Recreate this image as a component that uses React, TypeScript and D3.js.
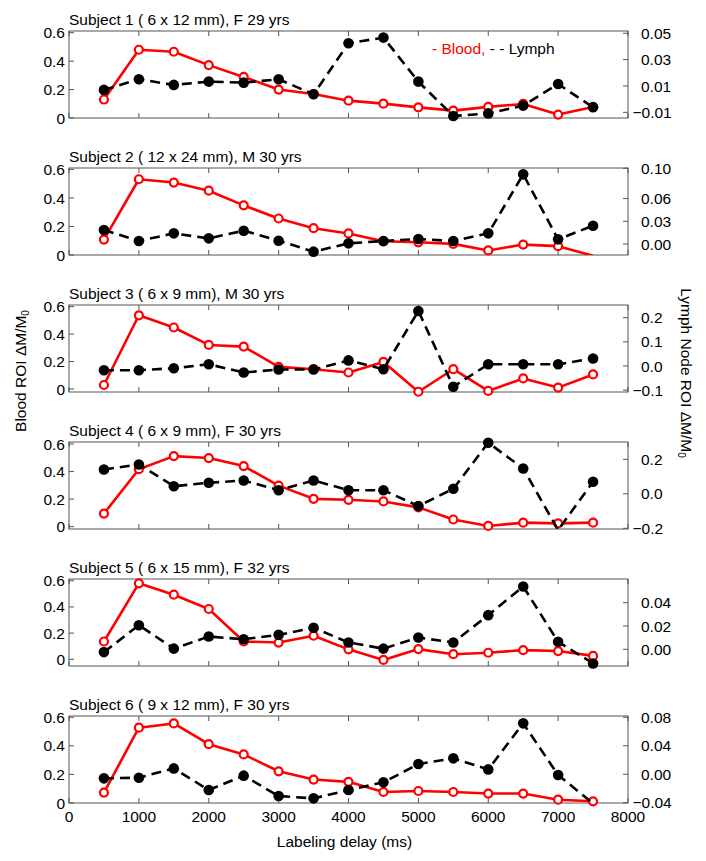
import React from 'react';
import * as d3 from 'd3';

const delays = [500, 1000, 1500, 2000, 2500, 3000, 3500, 4000, 4500, 5000, 5500, 6000, 6500, 7000, 7500];
const xTicks = [0, 1000, 2000, 3000, 4000, 5000, 6000, 7000, 8000];

const titles = [
  'Subject 1 ( 6 x 12 mm), F 29 yrs',
  'Subject 2 ( 12 x 24 mm), M 30 yrs',
  'Subject 3 ( 6 x 9 mm), M 30 yrs',
  'Subject 4 ( 6 x 9 mm), F 30 yrs',
  'Subject 5 ( 6 x 15 mm), F 32 yrs',
  'Subject 6 ( 9 x 12 mm), F 30 yrs',
];

const blood1 = [0.13, 0.48, 0.466, 0.372, 0.289, 0.2, 0.169, 0.122, 0.101, 0.075, 0.052, 0.078, 0.099, 0.024, 0.078];
const lymph1 = [0.007, 0.0151, 0.0108, 0.0133, 0.0125, 0.0151, 0.0037, 0.0424, 0.0467, 0.0133, -0.0128, -0.0108, -0.0049, 0.0115, -0.0062];

const blood2 = [0.108, 0.531, 0.508, 0.451, 0.348, 0.256, 0.188, 0.151, 0.096, 0.089, 0.078, 0.032, 0.073, 0.062, -0.005];
const lymph2 = [0.0185, 0.004, 0.0141, 0.0075, 0.0176, 0.0044, -0.0101, 0.0009, 0.004, 0.0066, 0.004, 0.0141, 0.092, 0.0062, 0.0242];

const blood3 = [0.029, 0.537, 0.448, 0.321, 0.309, 0.161, 0.144, 0.12, 0.197, -0.02, 0.144, -0.014, 0.077, 0.01, 0.106];
const lymph3 = [-0.0177, -0.0177, -0.0095, 0.0068, -0.027, -0.015, -0.015, 0.023, -0.0136, 0.228, -0.086, 0.0068, 0.0068, 0.0068, 0.031];

const blood4 = [0.095, 0.417, 0.512, 0.498, 0.44, 0.298, 0.202, 0.195, 0.183, 0.14, 0.052, 0.005, 0.029, 0.024, 0.029];
const lymph4 = [0.141, 0.17, 0.044, 0.064, 0.077, 0.021, 0.077, 0.021, 0.021, -0.071, 0.029, 0.296, 0.147, -0.21, 0.07];

const blood5 = [0.136, 0.58, 0.493, 0.384, 0.136, 0.128, 0.18, 0.076, -0.005, 0.078, 0.039, 0.05, 0.07, 0.063, 0.026];
const lymph5 = [-0.0024, 0.0207, 0.0006, 0.011, 0.0086, 0.0124, 0.0184, 0.0059, 0.0006, 0.0101, 0.0059, 0.0293, 0.0539, 0.0065, -0.0121];

const blood6 = [0.073, 0.527, 0.557, 0.412, 0.34, 0.222, 0.164, 0.148, 0.077, 0.084, 0.077, 0.066, 0.066, 0.023, 0.012];
const lymph6 = [-0.0058, -0.0049, 0.0082, -0.0222, -0.002, -0.0306, -0.0339, -0.0222, -0.0114, 0.0143, 0.0223, 0.0068, 0.0715, -0.0011, -0.041];

const bloodSeries = [blood1, blood2, blood3, blood4, blood5, blood6];
const lymphSeries = [lymph1, lymph2, lymph3, lymph4, lymph5, lymph6];

const leftDomains: [number, number][] = [
  [0, 0.612], [0, 0.61], [-0.022, 0.612], [-0.017, 0.6145], [-0.051, 0.613], [0, 0.609],
];
const rightDomains: [number, number][] = [
  [-0.0143, 0.0517], [-0.0145, 0.1004], [-0.108, 0.2527], [-0.204, 0.3003], [-0.0143, 0.0603], [-0.0404, 0.0818],
];

const leftTicks = [0, 0.2, 0.4, 0.6];
const leftTickLabels = ['0', '0.2', '0.4', '0.6'];

const rightTicks = [
  [-0.01, 0.01, 0.03, 0.05],
  [0, 0.03, 0.06, 0.1],
  [-0.1, 0, 0.1, 0.2],
  [-0.2, 0, 0.2],
  [0, 0.02, 0.04],
  [-0.04, 0, 0.04, 0.08],
];
const rightTickLabels = [
  ['−0.01', '0.01', '0.03', '0.05'],
  ['0.00', '0.03', '0.06', '0.10'],
  ['−0.1', '0.0', '0.1', '0.2'],
  ['−0.2', '0.0', '0.2'],
  ['0.00', '0.02', '0.04'],
  ['−0.04', '0.00', '0.04', '0.08'],
];

const W = 706;
const Hgt = 861;
const LEFT = 69;
const RIGHT = 628;
const TOP0 = 31;
const STEP = 137;
const PH = 87;
const FONT = '"Liberation Sans", Arial, Helvetica, sans-serif';
const FS = 15.5;
const AXIS = '#555';
const TICK = 5;

const x = d3.scaleLinear().domain([0, 8000]).range([LEFT, RIGHT]);

function Panel({ i }: { i: number }) {
  const top = TOP0 + STEP * i;
  const bottom = top + PH;
  const yL = d3.scaleLinear().domain(leftDomains[i]).range([bottom, top]);
  const yR = d3.scaleLinear().domain(rightDomains[i]).range([bottom, top]);
  const blood = bloodSeries[i];
  const lymph = lymphSeries[i];
  const lineL = d3.line<number>().x((_, k) => x(delays[k])).y((d) => yL(d));
  const lineR = d3.line<number>().x((_, k) => x(delays[k])).y((d) => yR(d));
  const inL = (v: number) => v >= leftDomains[i][0] && v <= leftDomains[i][1];
  const inR = (v: number) => v >= rightDomains[i][0] && v <= rightDomains[i][1];
  const clipId = `clip${i}`;
  const isLast = i === 5;
  return (
    <g>
      <defs>
        <clipPath id={clipId}>
          <rect x={LEFT} y={top} width={RIGHT - LEFT} height={PH} />
        </clipPath>
      </defs>
      <text x={LEFT} y={top - 6} fontFamily={FONT} fontSize={FS} fill="#000">{titles[i]}</text>
      <rect x={LEFT} y={top} width={RIGHT - LEFT} height={PH} fill="none" stroke={AXIS} strokeWidth={1} />
      {xTicks.map((t) => (
        <g key={'xt' + t}>
          <line x1={x(t)} x2={x(t)} y1={bottom} y2={bottom - TICK} stroke={AXIS} />
          <line x1={x(t)} x2={x(t)} y1={top} y2={top + TICK} stroke={AXIS} />
          {isLast && (
            <text x={x(t)} y={bottom + 19} textAnchor="middle" fontFamily={FONT} fontSize={FS} fill="#000">{t}</text>
          )}
        </g>
      ))}
      {leftTicks.map((t, k) => (
        <g key={'lt' + k}>
          <line x1={LEFT} x2={LEFT + TICK} y1={yL(t)} y2={yL(t)} stroke={AXIS} />
          <text x={LEFT - 4} y={yL(t)} dy="0.36em" textAnchor="end" fontFamily={FONT} fontSize={FS} fill="#000">{leftTickLabels[k]}</text>
        </g>
      ))}
      {rightTicks[i].map((t, k) => {
        const lab = rightTickLabels[i][k];
        const neg = lab.startsWith('−');
        return (
          <g key={'rt' + k}>
            <line x1={RIGHT} x2={RIGHT - TICK} y1={yR(t)} y2={yR(t)} stroke={AXIS} />
            <text x={neg ? 632.5 : 641} y={yR(t)} dy="0.36em" textAnchor="start" fontFamily={FONT} fontSize={FS} fill="#000">{lab}</text>
          </g>
        );
      })}
      <g clipPath={`url(#${clipId})`}>
        <path d={lineL(blood) || ''} fill="none" stroke="#ff0000" strokeWidth={2.6} strokeLinejoin="round" />
      </g>
      {blood.map((v, k) => inL(v) ? (
        <circle key={'b' + k} cx={x(delays[k])} cy={yL(v)} r={4} fill="#fff" stroke="#ff0000" strokeWidth={2.2} />
      ) : null)}
      <g clipPath={`url(#${clipId})`}>
        <path d={lineR(lymph) || ''} fill="none" stroke="#000" strokeWidth={2.6} strokeDasharray="10 6" />
      </g>
      {lymph.map((v, k) => inR(v) ? (
        <circle key={'l' + k} cx={x(delays[k])} cy={yR(v)} r={5.3} fill="#000" />
      ) : null)}
      {i === 0 && (
        <text x={432} y={54} fontFamily={FONT} fontSize={FS}>
          <tspan fill="#ff0000">- Blood,</tspan>
          <tspan fill="#000"> - - Lymph</tspan>
        </text>
      )}
    </g>
  );
}

export default function App() {
  return (
    <svg width={W} height={Hgt} style={{ position: 'absolute', left: 0, top: 0, background: '#fff' }}>
      <rect x={0} y={0} width={W} height={Hgt} fill="#fff" />
      {titles.map((_, i) => <Panel key={i} i={i} />)}
      <text x={(LEFT + RIGHT) / 2 - 4} y={847} textAnchor="middle" fontFamily={FONT} fontSize={FS} fill="#000">Labeling delay (ms)</text>
      <text transform="translate(21,371) rotate(-90)" textAnchor="middle" dy="0.35em" fontFamily={FONT} fontSize={FS} fill="#000">
        Blood ROI ΔM/M<tspan fontSize={10} dy="3">0</tspan>
      </text>
      <text transform="translate(686,373) rotate(90)" textAnchor="middle" dy="0.35em" fontFamily={FONT} fontSize={FS} fill="#000">
        Lymph Node ROI ΔM/M<tspan fontSize={10} dy="3">0</tspan>
      </text>
    </svg>
  );
}
